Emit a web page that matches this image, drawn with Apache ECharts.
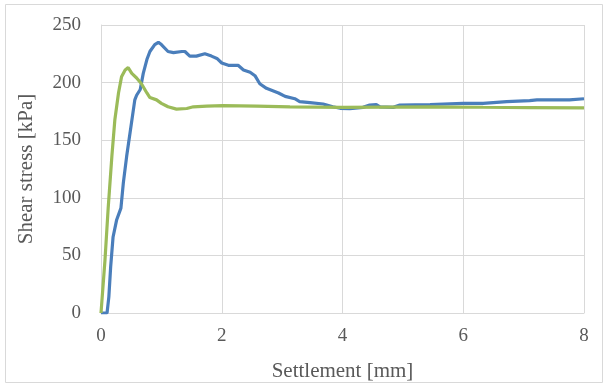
<!DOCTYPE html>
<html>
<head>
<meta charset="utf-8">
<script src="https://cdn.jsdelivr.net/npm/echarts@6/dist/echarts.min.js"></script>
<style>html,body{margin:0;padding:0;background:#fff}#c{width:607px;height:387px}</style>
</head>
<body>
<div id="c"></div>
<script>
var xTicks = [0, 2, 4, 6, 8];
var yTicks = [0, 50, 100, 150, 200, 250];
var blueSeries = [[0,0],[0.04,0],[0.10,0],[0.13,14],[0.16,40],[0.2,66],[0.26,81],[0.33,91],[0.37,113],[0.425,136],[0.48,156],[0.56,185],[0.59,189],[0.65,194],[0.70,208],[0.76,220],[0.81,227],[0.89,233],[0.95,235],[1.0,233],[1.11,227],[1.20,226],[1.34,227],[1.39,227],[1.47,223],[1.58,223],[1.72,225],[1.83,223],[1.92,221],[2.0,217],[2.11,215],[2.27,215],[2.36,211],[2.47,209],[2.55,206],[2.63,199],[2.74,195],[2.94,191],[3.05,188],[3.21,186],[3.29,183.5],[3.46,182.6],[3.68,181.4],[3.84,179],[3.96,177.7],[4.12,177.4],[4.34,178.5],[4.45,180.5],[4.56,181],[4.62,179],[4.84,178.5],[4.95,180.5],[5.45,181],[6.0,182],[6.33,182],[6.72,183.5],[7.1,184.4],[7.22,185],[7.76,185],[8.0,186]];
var greenSeries = [[0,0],[0.01,0],[0.066,46],[0.12,92],[0.18,136],[0.23,168],[0.29,191],[0.34,205],[0.40,211],[0.45,213],[0.51,208],[0.59,204],[0.67,199],[0.76,191],[0.81,187],[0.92,185],[1.0,182],[1.11,179],[1.25,177],[1.42,177.5],[1.53,179],[1.75,179.5],[2.02,180],[2.58,179.5],[3.13,179],[4.0,178.5],[5.45,179],[6.33,178.6],[7.1,178.3],[8.0,178]];

var chart = echarts.init(document.getElementById('c'), null, {renderer: 'canvas'});
var font = '"Liberation Serif", "Times New Roman", serif';
chart.setOption({
  animation: false,
  backgroundColor: '#fff',
  textStyle: {fontFamily: font},
  graphic: [{
    type: 'rect', silent: true,
    shape: {x: 5.5, y: 4.5, width: 597, height: 378},
    style: {fill: 'none', stroke: '#d9d9d9', lineWidth: 1}
  }],
  grid: {left: 101, right: 23, top: 25, bottom: 74, containLabel: false},
  xAxis: {
    type: 'value', min: xTicks[0], max: xTicks[xTicks.length-1], interval: 2,
    name: 'Settlement [mm]', nameLocation: 'middle', nameGap: 48,
    nameTextStyle: {fontFamily: font, fontSize: 21, color: '#595959'},
    axisLine: {show: true, lineStyle: {color: '#d9d9d9', width: 1}},
    axisTick: {show: false},
    axisLabel: {fontFamily: font, fontSize: 19, color: '#595959', margin: 14},
    splitLine: {show: true, lineStyle: {color: '#d9d9d9', width: 1}}
  },
  yAxis: {
    type: 'value', min: yTicks[0], max: yTicks[yTicks.length-1], interval: 50,
    name: 'Shear stress [kPa]', nameLocation: 'middle', nameGap: 64,
    nameTextStyle: {fontFamily: font, fontSize: 21, color: '#595959'},
    axisLine: {show: true, lineStyle: {color: '#d9d9d9', width: 1}},
    axisTick: {show: false},
    axisLabel: {fontFamily: font, fontSize: 19, color: '#595959', margin: 20},
    splitLine: {show: true, lineStyle: {color: '#d9d9d9', width: 1}}
  },
  series: [
    {type: 'line', data: blueSeries, showSymbol: false, symbol: 'none',
     lineStyle: {color: '#4a7ebb', width: 3.2}, z: 2},
    {type: 'line', data: greenSeries, showSymbol: false, symbol: 'none',
     lineStyle: {color: '#9bbb59', width: 3.2}, z: 3}
  ]
});
</script>
</body>
</html>
